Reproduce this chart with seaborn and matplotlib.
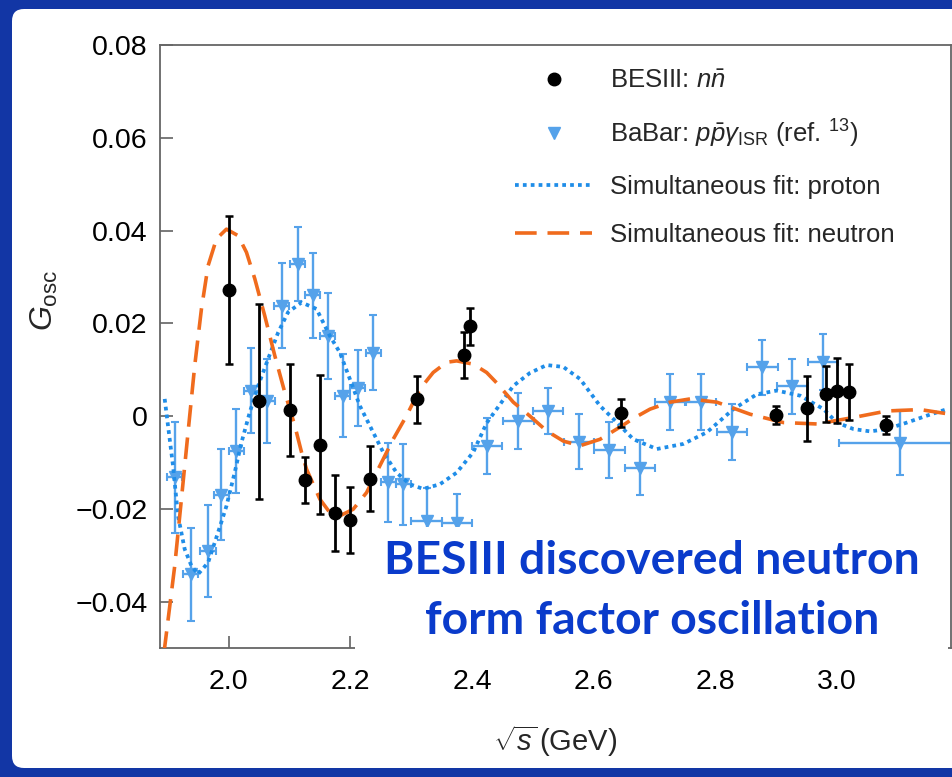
import matplotlib
matplotlib.use("Agg")
import matplotlib.pyplot as plt
import seaborn as sns
import pandas as pd
from matplotlib.lines import Line2D
from matplotlib.patches import Rectangle, FancyBboxPatch

# ---------------- data ----------------
bes_x = [2.0, 2.05, 2.1, 2.125, 2.15, 2.175, 2.2, 2.2324, 2.3094, 2.3864, 2.396,
         2.6444, 2.9, 2.95, 2.981, 3.0, 3.02, 3.08]
bes_y = [0.0272, 0.0032, 0.0013, -0.0138, -0.0062, -0.0209, -0.0224, -0.0135, 0.0036,
         0.0132, 0.0194, 0.0006, 0.0002, 0.0017, 0.0047, 0.0055, 0.0052, -0.0019]
bes_err = [0.016, 0.021, 0.010, 0.005, 0.015, 0.0081, 0.0072, 0.007, 0.005, 0.005,
           0.004, 0.003, 0.002, 0.007, 0.006, 0.007, 0.006, 0.002]

babar_x = [1.911, 1.9375, 1.966, 1.988, 2.0127, 2.0373, 2.063, 2.0867, 2.113, 2.1377,
           2.1623, 2.187, 2.2117, 2.2373, 2.262, 2.2867, 2.325, 2.3755, 2.424, 2.476,
           2.525, 2.5757, 2.6255, 2.676, 2.7253, 2.7758, 2.8268, 2.877, 2.9265, 2.9765,
           3.1025]
babar_y = [-0.0132, -0.0341, -0.0291, -0.017, -0.0075, 0.0055, 0.0033, 0.0238, 0.0328,
           0.026, 0.0173, 0.0044, 0.006, 0.0137, -0.0143, -0.0147, -0.0226, -0.0231,
           -0.0064, -0.001, 0.0011, -0.0055, -0.0073, -0.0111, 0.003, 0.003, -0.0035,
           0.0105, 0.0064, 0.0116, -0.0057]
babar_yerr = [0.012, 0.010, 0.010, 0.0098, 0.009, 0.0092, 0.009, 0.0092, 0.008, 0.0092,
              0.0092, 0.009, 0.0082, 0.008, 0.0086, 0.0087, 0.007, 0.0063, 0.006, 0.006,
              0.005, 0.006, 0.006, 0.006, 0.006, 0.006, 0.006, 0.006, 0.006, 0.006,
              0.007]
babar_xerr = [0.0125] * 16 + [0.025] * 14 + [0.1]

fit_n_x = [1.887, 1.9112, 1.9222, 1.9331, 1.9441, 1.9551, 1.966, 1.9798, 1.9962, 2.0153,
           2.0291, 2.0428, 2.0592, 2.0757, 2.0921, 2.1086, 2.1196, 2.128, 2.1497, 2.1661,
           2.1826, 2.2044, 2.2265, 2.2484, 2.2702, 2.2923, 2.3141, 2.336, 2.3581, 2.3745,
           2.4018, 2.4238, 2.440, 2.4676, 2.495, 2.5225, 2.55, 2.5773, 2.6102, 2.6464,
           2.665, 2.6924, 2.7253, 2.7582, 2.8021, 2.8569, 2.9117, 2.9666, 3.0268, 3.0817,
           3.1365, 3.1859]
fit_n_y = [-0.058, -0.0323, -0.0179, -0.0035, 0.0109, 0.0231, 0.0324, 0.0382, 0.0403,
           0.0389, 0.0353, 0.0296, 0.0216, 0.013, 0.0051, -0.0021, -0.0078, -0.0115,
           -0.0179, -0.0208, -0.0215, -0.0201, -0.0165, -0.0107, -0.005, 0.0001, 0.0058,
           0.0094, 0.0116, 0.0119, 0.0112, 0.0094, 0.0072, 0.003, 0.0, -0.0032, -0.0054,
           -0.0064, -0.005, -0.0021, -0.0005, 0.0015, 0.003, 0.0037, 0.003, 0.0004,
           -0.0014, -0.0017, -0.0003, 0.0011, 0.0014, 0.0004]

fit_p_x = [1.8947, 1.9002, 1.9084, 1.9166, 1.9276, 1.9387, 1.9495, 1.966, 1.9824, 1.9962,
           2.0099, 2.0209, 2.0345, 2.0482, 2.0646, 2.0811, 2.0975, 2.1196, 2.1442, 2.1661,
           2.1826, 2.199, 2.2155, 2.2373, 2.2538, 2.2758, 2.2977, 2.3196, 2.347, 2.3745,
           2.4018, 2.4238, 2.4676, 2.495, 2.5225, 2.5498, 2.5773, 2.6102, 2.632, 2.665,
           2.7035, 2.7472, 2.7857, 2.8294, 2.8679, 2.9008, 2.9391, 2.9775, 2.9995, 3.0268,
           3.0543, 3.0817, 3.1146, 3.1475, 3.1804]
fit_p_y = [0.0037, -0.0021, -0.0107, -0.0215, -0.0287, -0.0323, -0.0341, -0.0316, -0.0251,
           -0.0194, -0.0121, -0.0057, 0.0008, 0.0065, 0.0123, 0.018, 0.0224, 0.0245,
           0.0231, 0.0173, 0.0137, 0.008, 0.0022, -0.0035, -0.0078, -0.0122, -0.0147,
           -0.0157, -0.0147, -0.0122, -0.0078, -0.0015, 0.0065, 0.0093, 0.011, 0.0106,
           0.008, 0.0022, -0.0006, -0.005, -0.0071, -0.006, -0.0035, 0.0015, 0.0047,
           0.0055, 0.0044, 0.0015, -0.0014, -0.0028, -0.0033, -0.0028, -0.0014, 0.0001,
           0.0015]

xticks = [2.0, 2.2, 2.4, 2.6, 2.8, 3.0]
xtick_labels = ["2.0", "2.2", "2.4", "2.6", "2.8", "3.0"]
yticks = [0.08, 0.06, 0.04, 0.02, 0.0, -0.02, -0.04]
ytick_labels = ["0.08", "0.06", "0.04", "0.02", "0", "\u22120.02", "\u22120.04"]

legend_labels = [r"BESIII: $n\bar{n}$",
                 r"BaBar: $p\bar{p}\gamma_{\mathrm{ISR}}$ (ref. $^{13}$)",
                 "Simultaneous fit: proton",
                 "Simultaneous fit: neutron"]
banner_lines = ["BESIII discovered neutron", "form factor oscillation"]

# ---------------- style ----------------
sns.set_theme(style="ticks")
plt.rcParams["font.family"] = ["Liberation Sans", "DejaVu Sans"]
plt.rcParams["mathtext.fontset"] = "custom"
plt.rcParams["mathtext.rm"] = "Liberation Sans"
plt.rcParams["mathtext.it"] = "Liberation Sans:italic"
plt.rcParams["mathtext.bf"] = "Liberation Sans:bold"

BLACK = "#000000"
BLUE_PT = "#55A2EA"
BLUE_LN = "#1F8DE8"
ORANGE = "#F06B1D"
FRAME = "#1236A5"
BANNER = "#0A3BCB"

fig = plt.figure(figsize=(9.53, 7.77), dpi=100)
fig.patch.set_facecolor(FRAME)
inner = FancyBboxPatch((0.12, 0.09), 9.8, 7.59,
                       boxstyle="round,pad=0,rounding_size=0.12",
                       transform=fig.dpi_scale_trans, facecolor="white",
                       edgecolor="none", zorder=-5)
fig.add_artist(inner)

W, H = 953.0, 777.0
ax = fig.add_axes([160 / W, 1 - 648 / H, (951 - 160) / W, (648 - 45) / H])
ax.set_facecolor("white")

df_n = pd.DataFrame({"x": fit_n_x, "y": fit_n_y})
df_p = pd.DataFrame({"x": fit_p_x, "y": fit_p_y})

# BaBar points
ax.errorbar(babar_x, babar_y, yerr=babar_yerr, xerr=babar_xerr, fmt="v",
            color=BLUE_PT, ms=9, elinewidth=1.7, capsize=3, capthick=1.5,
            zorder=2)

# fit curves
sns.lineplot(data=df_p, x="x", y="y", ax=ax, sort=False, estimator=None,
             color=BLUE_LN, linestyle=(0, (1, 1.1)), linewidth=2.7, zorder=3)
sns.lineplot(data=df_n, x="x", y="y", ax=ax, sort=False, estimator=None,
             color=ORANGE, linestyle=(0, (6, 3)), linewidth=2.6, zorder=3)

# BESIII points
ax.errorbar(bes_x, bes_y, yerr=bes_err, fmt="o", color=BLACK, ms=9,
            elinewidth=2.0, capsize=3, capthick=1.8, zorder=4)

ax.set_xlim(1.887, 3.187)
ax.set_ylim(-0.05, 0.08)
ax.set_xticks(xticks)
ax.set_xticklabels(xtick_labels)
ax.set_yticks(yticks)
ax.set_yticklabels(ytick_labels)
ax.tick_params(axis="both", direction="in", length=9, width=1.1, color="#555555",
               labelsize=20.5, labelcolor="black")
ax.tick_params(axis="x", pad=15)
ax.tick_params(axis="y", pad=9)
for s in ax.spines.values():
    s.set_color("#666666")
    s.set_linewidth(1.3)

ax.set_xlabel(r"$\sqrt{s}\,$(GeV)", fontsize=21)
ax.set_ylabel(r"$G_{\mathrm{osc}}$", fontsize=23)
ax.xaxis.set_label_coords(0.5, -0.124)
ax.yaxis.set_label_coords(-0.127, 0.577)

handles = [
    Line2D([], [], marker="o", color=BLACK, ls="none", ms=9),
    Line2D([], [], marker="v", color=BLUE_PT, ls="none", ms=8),
    Line2D([], [], color=BLUE_LN, ls=(0, (1, 1.1)), lw=2.7),
    Line2D([], [], color=ORANGE, ls=(0, (6, 3)), lw=2.6),
]
leg = ax.legend(handles, legend_labels, loc="upper left", frameon=False,
                bbox_to_anchor=(515 / W, 1 - 69 / H),
                bbox_transform=fig.transFigure, fontsize=18.5,
                handlelength=3.0, handletextpad=0.7, labelspacing=0.96,
                borderpad=0, borderaxespad=0)

# banner box and text
box = Rectangle((3.55, (H - 662) / 100), 5.93, 1.35, transform=fig.dpi_scale_trans,
                facecolor="white", edgecolor="none", zorder=5)
fig.add_artist(box)
fig.text(6.515, (H - 561) / 100, banner_lines[0], transform=fig.dpi_scale_trans,
         ha="center", va="center", fontsize=33.3, fontweight="bold",
         family=["Lato", "DejaVu Sans"], color=BANNER, zorder=6)
fig.text(6.52, (H - 621) / 100, banner_lines[1], transform=fig.dpi_scale_trans,
         ha="center", va="center", fontsize=33.3, fontweight="bold",
         family=["Lato", "DejaVu Sans"], color=BANNER, zorder=6)

fig.savefig("out.png", dpi=100, facecolor=fig.get_facecolor())
